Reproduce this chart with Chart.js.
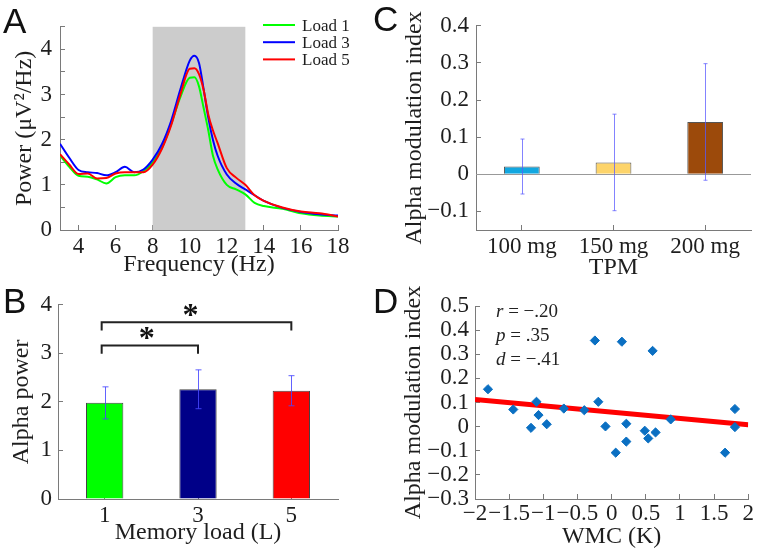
<!DOCTYPE html>
<html>
<head>
<meta charset="utf-8">
<script src="https://cdn.jsdelivr.net/npm/chart.js@4.4.0/dist/chart.umd.min.js"></script>
<style>
  body { margin: 0; background: #fff; }
  #fig { position: relative; width: 760px; height: 554px; overflow: hidden; background: #fff; }
  #fig canvas { position: absolute; }
  .tag { position: absolute; font-family: 'Liberation Sans', Arial, sans-serif; font-size: 35px; line-height: 35px; color: #111; }
  .stats { position: absolute; left: 496px; top: 299px; font-family: 'Liberation Serif', 'Times New Roman', serif; font-size: 19px; line-height: 24px; color: #222; }
</style>
</head>
<body>
<div id="fig">
  <canvas id="chartA" width="380" height="280" style="left:0;top:0"></canvas>
  <canvas id="chartC" width="380" height="280" style="left:380px;top:0"></canvas>
  <canvas id="chartB" width="380" height="274" style="left:0;top:280px"></canvas>
  <canvas id="chartD" width="380" height="274" style="left:380px;top:280px"></canvas>
  <div class="tag" style="left:3px;top:3px">A</div>
  <div class="tag" style="left:3px;top:283px">B</div>
  <div class="tag" style="left:373px;top:1px">C</div>
  <div class="tag" style="left:373px;top:283px">D</div>
  <div class="stats"><i>r</i> = &minus;.20<br><i>p</i> = .35<br><i>d</i> = &minus;.41</div>
</div>
<script>
// ---- data ----
// A: power spectra per memory load
const freqHz = [3, 3.5, 4, 4.5, 5, 5.5, 6, 6.5, 7, 7.5, 8, 8.5, 9, 9.5, 10, 10.25, 10.5, 10.75, 11, 11.25, 11.5, 12, 12.5, 13, 13.5, 14, 15, 16, 17, 18];
const powerLoad1 = [1.65, 1.40, 1.20, 1.18, 1.12, 1.03, 1.17, 1.21, 1.21, 1.30, 1.50, 1.82, 2.35, 2.95, 3.37, 3.38, 3.18, 2.70, 2.21, 1.65, 1.35, 1.00, 0.90, 0.79, 0.60, 0.53, 0.47, 0.37, 0.32, 0.30];
const powerLoad3 = [1.91, 1.60, 1.33, 1.28, 1.26, 1.21, 1.28, 1.40, 1.28, 1.34, 1.56, 1.90, 2.42, 3.12, 3.75, 3.86, 3.70, 3.12, 2.49, 2.00, 1.65, 1.23, 1.03, 0.90, 0.77, 0.645, 0.49, 0.40, 0.35, 0.32];
const powerLoad5 = [1.68, 1.45, 1.24, 1.25, 1.14, 1.15, 1.25, 1.28, 1.28, 1.28, 1.45, 1.80, 2.32, 3.01, 3.57, 3.58, 3.45, 3.10, 2.56, 2.21, 1.93, 1.37, 1.16, 1.00, 0.77, 0.645, 0.50, 0.41, 0.37, 0.30];
const freqTicks = [4, 6, 8, 10, 12, 14, 16, 18];
const alphaBand = [8, 13];
const loadLabels = ['Load 1', 'Load 3', 'Load 5'];
const loadColors = ['#00ff00', '#0000ff', '#ff0000'];

// B: alpha power by memory load
const memoryLoads = ['1', '3', '5'];
const alphaPower = [1.98, 2.26, 2.23];
const alphaPowerErr = [0.33, 0.40, 0.31];
const barColorsB = ['#00ff00', '#000088', '#ff0000'];

// C: alpha modulation index by TPM dose
const tpmDoses = ['100 mg', '150 mg', '200 mg'];
const modIndex = [0.021, 0.032, 0.141];
const modIndexErr = [0.074, 0.130, 0.157];
const modTicks = [-0.1, 0, 0.1, 0.2, 0.3, 0.4];
const barColorsC = ['#12a7e0', '#fdd46a', '#9c4a0b'];

// D: modulation index vs WMC
const wmc = [-1.81, -1.44, -1.18, -1.10, -1.07, -0.95, -0.70, -0.40, -0.245, -0.195, -0.09, 0.06, 0.15, 0.215, 0.215, 0.485, 0.536, 0.60, 0.643, 0.865, 1.661, 1.805, 1.805];
const wmcIndex = [0.155, 0.071, -0.005, 0.103, 0.048, 0.010, 0.075, 0.068, 0.357, 0.103, 0.001, -0.108, 0.352, 0.012, -0.062, -0.017, -0.049, 0.314, -0.024, 0.030, -0.108, 0.073, -0.002];
const fitX = [-2, 2];
const fitY = [0.112, 0.008];

// ---- shared style ----
const SERIF = "'Liberation Serif', 'Times New Roman', serif";
const AXIS_GRAY = '#7a7a7a';
const TEXT = '#1e1e1e';
Chart.defaults.font.family = SERIF;
Chart.defaults.color = TEXT;

const fmt = v => {
  const r = Math.round(v * 100) / 100;
  return r < 0 ? '\u2212' + Math.abs(r) : String(r);
};

// matlab-ish axis: gray line, short inward ticks, fixed box size
function axis(o) {
  const ticks = {
    color: TEXT, font: { family: SERIF, size: o.tickSize || 23 }, padding: o.pad,
    autoSkip: false, maxRotation: 0
  };
  if (o.step) ticks.stepSize = o.step;
  if (o.cb) ticks.callback = o.cb;
  const a = {
    type: o.type || 'linear',
    offset: o.offset || false,
    border: { display: true, color: AXIS_GRAY, width: 1 },
    grid: { display: true, drawOnChartArea: false, drawTicks: true, tickLength: -5, color: AXIS_GRAY, offset: false },
    ticks,
    title: { display: true, text: o.title, color: TEXT, font: { family: SERIF, size: 24, lineHeight: 1 }, padding: o.titlePad },
    afterFit: s => { if (s.isHorizontal()) s.height = o.box; else s.width = o.box; }
  };
  if (o.min !== undefined) a.min = o.min;
  if (o.max !== undefined) a.max = o.max;
  if (o.fixedTicks) a.afterBuildTicks = s => { s.ticks = o.fixedTicks.map(v => ({ value: v })); };
  return a;
}

const base = {
  responsive: false,
  animation: false,
  events: [],
  plugins: { legend: { display: false }, tooltip: { enabled: false } }
};

const errorBars = {
  id: 'errorBars',
  afterDatasetsDraw(chart, args, o) {
    const ctx = chart.ctx, y = chart.scales.y;
    const vals = chart.data.datasets[0].data;
    ctx.save();
    ctx.strokeStyle = o.color;
    ctx.lineWidth = 1;
    chart.getDatasetMeta(0).data.forEach((bar, i) => {
      const x = Math.round(bar.x) + 0.5;
      const top = y.getPixelForValue(vals[i] + o.err[i]);
      const bot = y.getPixelForValue(vals[i] - o.err[i]);
      ctx.beginPath();
      ctx.moveTo(x, top); ctx.lineTo(x, bot);
      ctx.moveTo(x - o.cap, top); ctx.lineTo(x + o.cap, top);
      ctx.moveTo(x - o.cap, bot); ctx.lineTo(x + o.cap, bot);
      ctx.stroke();
    });
    ctx.restore();
  }
};

// ---- A ----
const bandPlugin = {
  id: 'band',
  beforeDatasetsDraw(chart) {
    const { ctx, chartArea: ca, scales: { x } } = chart;
    const x0 = x.getPixelForValue(alphaBand[0]), x1 = x.getPixelForValue(alphaBand[1]);
    ctx.save();
    ctx.fillStyle = '#cccccc';
    ctx.fillRect(x0, ca.top, x1 - x0, ca.bottom - ca.top);
    ctx.restore();
  }
};
const legendA = {
  id: 'legendA',
  afterDraw(chart) {
    const ctx = chart.ctx;
    ctx.save();
    ctx.font = '17px ' + SERIF;
    ctx.fillStyle = TEXT;
    ctx.lineWidth = 2;
    loadLabels.forEach((lab, i) => {
      const y = 25 + i * 17.2;
      ctx.strokeStyle = loadColors[i];
      ctx.beginPath(); ctx.moveTo(263, y); ctx.lineTo(295, y); ctx.stroke();
      ctx.fillText(lab, 302, y + 5.5);
    });
    ctx.restore();
  }
};

new Chart(document.getElementById('chartA'), {
  type: 'line',
  data: {
    datasets: [powerLoad1, powerLoad3, powerLoad5].map((arr, i) => ({
      label: loadLabels[i],
      data: freqHz.map((f, k) => ({ x: f, y: arr[k] })),
      borderColor: loadColors[i],
      borderWidth: 2,
      pointRadius: 0,
      cubicInterpolationMode: 'monotone',
      order: 3 - i
    }))
  },
  options: {
    ...base,
    layout: { padding: { left: 0, right: 42, top: 17, bottom: 0 } },
    scales: {
      x: axis({ min: 3, max: 18, fixedTicks: freqTicks, box: 50, pad: 8, title: 'Frequency (Hz)', titlePad: 3 }),
      y: axis({ min: 0, max: 4.5, step: 0.5, box: 60, pad: 13, title: 'Power (\u03bcV\u00b2/Hz)', titlePad: 13,
        cb: v => (Number.isInteger(v) ? String(v) : '') })
    }
  },
  plugins: [bandPlugin, legendA]
});

// ---- B ----
const sigBrackets = {
  id: 'sig',
  afterDatasetsDraw(chart, args, o) {
    const { ctx, scales: { x, y } } = chart;
    ctx.save();
    ctx.strokeStyle = '#222';
    ctx.lineWidth = 2;
    ctx.fillStyle = '#111';
    ctx.textAlign = 'center';
    ctx.font = 'bold 32px ' + SERIF;
    o.pairs.forEach((p, i) => {
      const xa = x.getPixelForValue(p[0]) - 3, xb = x.getPixelForValue(p[1]);
      const yl = y.getPixelForValue(o.levels[i]);
      const yd = y.getPixelForValue(o.levels[i] - 0.17);
      ctx.beginPath();
      ctx.moveTo(xa, yd); ctx.lineTo(xa, yl); ctx.lineTo(xb, yl); ctx.lineTo(xb, yd);
      ctx.stroke();
      ctx.fillText('*', (xa + xb) / 2 - (i ? 6 : 3), y.getPixelForValue(o.levels[i] + 0.28) + 16);
    });
    ctx.restore();
  }
};

new Chart(document.getElementById('chartB'), {
  type: 'bar',
  data: {
    labels: memoryLoads,
    datasets: [{
      data: alphaPower,
      backgroundColor: barColorsB,
      borderColor: '#444',
      borderWidth: 1,
      categoryPercentage: 1,
      barPercentage: 0.4
    }]
  },
  options: {
    ...base,
    layout: { padding: { left: 0, right: 42, top: 24, bottom: 0 } },
    plugins: {
      ...base.plugins,
      errorBars: { err: alphaPowerErr, color: 'rgba(70,70,255,0.85)', cap: 3 },
      sig: { pairs: [[0, 1], [0, 2]], levels: [3.16, 3.64] }
    },
    scales: {
      x: axis({ type: 'category', offset: true, box: 55, pad: 8, title: 'Memory load (L)', titlePad: 9 }),
      y: axis({ min: 0, max: 4, step: 1, box: 58, pad: 11, title: 'Alpha power', titlePad: 10 })
    }
  },
  plugins: [errorBars, sigBrackets]
});

// ---- C ----
const zeroLine = {
  id: 'zeroLine',
  beforeDatasetsDraw(chart) {
    const { ctx, chartArea: ca, scales: { y } } = chart;
    const y0 = Math.round(y.getPixelForValue(0)) + 0.5;
    ctx.save();
    ctx.strokeStyle = '#999';
    ctx.lineWidth = 1;
    ctx.beginPath(); ctx.moveTo(ca.left, y0); ctx.lineTo(ca.right, y0); ctx.stroke();
    ctx.restore();
  }
};

new Chart(document.getElementById('chartC'), {
  type: 'bar',
  data: {
    labels: tpmDoses,
    datasets: [{
      data: modIndex,
      backgroundColor: barColorsC,
      borderColor: '#555',
      borderWidth: 1,
      categoryPercentage: 1,
      barPercentage: 0.39
    }]
  },
  options: {
    ...base,
    layout: { padding: { left: 0, right: 9, top: 18, bottom: 0 } },
    plugins: {
      ...base.plugins,
      errorBars: { err: modIndexErr, color: 'rgba(90,90,255,0.75)', cap: 2 }
    },
    scales: {
      x: axis({ type: 'category', offset: true, box: 50, pad: 8, title: 'TPM', titlePad: 0 }),
      y: axis({ min: -0.15, max: 0.4, fixedTicks: modTicks, box: 96, pad: 12, title: 'Alpha modulation index', titlePad: 23, cb: fmt })
    }
  },
  plugins: [zeroLine, errorBars]
});

// ---- D ----
new Chart(document.getElementById('chartD'), {
  type: 'scatter',
  data: {
    datasets: [
      {
        data: wmc.map((w, i) => ({ x: w, y: wmcIndex[i] })),
        pointStyle: 'rectRot',
        pointRadius: 4.6,
        backgroundColor: '#0a6fc2',
        borderColor: '#0a6fc2',
        borderWidth: 1,
        order: 1
      },
      {
        type: 'line',
        data: fitX.map((x, i) => ({ x, y: fitY[i] })),
        borderColor: '#ff0000',
        borderWidth: 5,
        pointRadius: 0,
        showLine: true,
        order: 2
      }
    ]
  },
  options: {
    ...base,
    layout: { padding: { left: 0, right: 10, top: 26, bottom: 0 } },
    scales: {
      x: axis({ min: -2, max: 2, step: 0.5, box: 55, pad: 6, tickSize: 23, title: 'WMC (K)', titlePad: 5, cb: fmt }),
      y: axis({ min: -0.3, max: 0.5, step: 0.1, box: 95, pad: 11, tickSize: 23, title: 'Alpha modulation index', titlePad: 22, cb: fmt })
    }
  }
});
</script>
</body>
</html>
